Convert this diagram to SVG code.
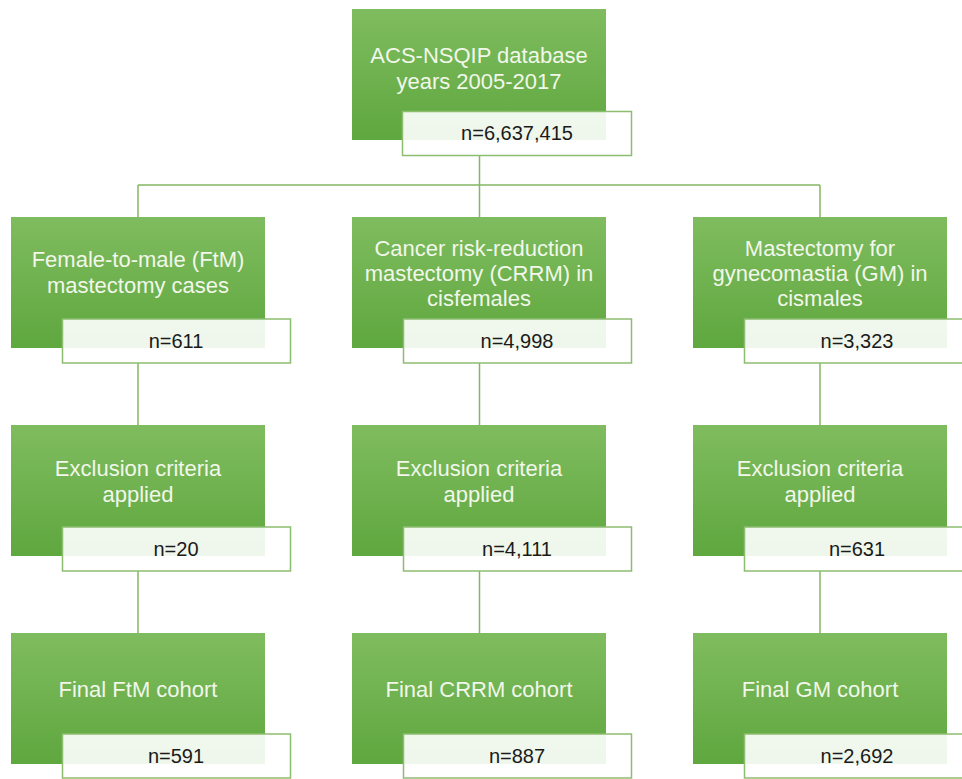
<svg xmlns="http://www.w3.org/2000/svg" width="962" height="779" viewBox="0 0 962 779">
<defs>
<linearGradient id="g" x1="0" y1="0" x2="0" y2="1">
<stop offset="0" stop-color="#7fbc5f"/>
<stop offset="1" stop-color="#5fa73f"/>
</linearGradient>
</defs>
<style>
.box{fill:url(#g);}
.num{fill:#ffffff;fill-opacity:0.9;stroke:#8dbd6f;stroke-width:1.5;}
.t{font-family:"Liberation Sans",Arial,sans-serif;font-size:22px;fill:#f1f7ea;text-anchor:middle;}
.n{font-family:"Liberation Sans",Arial,sans-serif;font-size:20px;fill:#1a1a1a;text-anchor:middle;}
.c{fill:none;stroke:#84b764;stroke-width:1.5;}
</style>
<rect width="962" height="779" fill="#ffffff"/>
<g id="connectors">
<path class="c" d="M479.5 156 V185 M138 185 H820 M138 185 V217 M479.5 185 V217 M820 185 V217"/>
<path class="c" d="M138 363 V425 M479.5 363 V425 M820 363 V425"/>
<path class="c" d="M138 571 V633 M479.5 571 V633 M820 571 V633"/>
</g>
<g id="top">
<rect class="box" x="352" y="9" width="254" height="131"/>
<text class="t" x="479" y="63">ACS-NSQIP database</text>
<text class="t" x="479" y="89">years 2005-2017</text>
<rect class="num" x="402.5" y="111.5" width="229" height="44"/>
<text class="n" x="517" y="140">n=6,637,415</text>
</g>
<g id="ftm">
<rect class="box" x="11" y="217" width="254" height="131"/>
<text class="t" x="138" y="267">Female-to-male (FtM)</text>
<text class="t" x="138" y="293">mastectomy cases</text>
<rect class="num" x="62.5" y="319" width="228" height="44"/>
<text class="n" x="176" y="348">n=611</text>
</g>
<g id="crrm">
<rect class="box" x="352" y="217" width="254" height="131"/>
<text class="t" x="479" y="256">Cancer risk-reduction</text>
<text class="t" x="479" y="281">mastectomy (CRRM) in</text>
<text class="t" x="479" y="306">cisfemales</text>
<rect class="num" x="403.5" y="319" width="228" height="44"/>
<text class="n" x="517" y="348">n=4,998</text>
</g>
<g id="gm">
<rect class="box" x="693" y="217" width="254" height="131"/>
<text class="t" x="820" y="256">Mastectomy for</text>
<text class="t" x="820" y="281">gynecomastia (GM) in</text>
<text class="t" x="820" y="306">cismales</text>
<rect class="num" x="744.5" y="319" width="228" height="44"/>
<text class="n" x="857" y="348">n=3,323</text>
</g>
<g id="ftm-excl">
<rect class="box" x="11" y="425" width="254" height="131"/>
<text class="t" x="138" y="476">Exclusion criteria</text>
<text class="t" x="138" y="502">applied</text>
<rect class="num" x="62.5" y="527" width="228" height="44"/>
<text class="n" x="176" y="556">n=20</text>
</g>
<g id="crrm-excl">
<rect class="box" x="352" y="425" width="254" height="131"/>
<text class="t" x="479" y="476">Exclusion criteria</text>
<text class="t" x="479" y="502">applied</text>
<rect class="num" x="403.5" y="527" width="228" height="44"/>
<text class="n" x="517" y="556">n=4,111</text>
</g>
<g id="gm-excl">
<rect class="box" x="693" y="425" width="254" height="131"/>
<text class="t" x="820" y="476">Exclusion criteria</text>
<text class="t" x="820" y="502">applied</text>
<rect class="num" x="744.5" y="527" width="228" height="44"/>
<text class="n" x="857" y="556">n=631</text>
</g>
<g id="ftm-final">
<rect class="box" x="11" y="633" width="254" height="131"/>
<text class="t" x="138" y="697">Final FtM cohort</text>
<rect class="num" x="62.5" y="734" width="228" height="44"/>
<text class="n" x="176" y="763">n=591</text>
</g>
<g id="crrm-final">
<rect class="box" x="352" y="633" width="254" height="131"/>
<text class="t" x="479" y="697">Final CRRM cohort</text>
<rect class="num" x="403.5" y="734" width="228" height="44"/>
<text class="n" x="517" y="763">n=887</text>
</g>
<g id="gm-final">
<rect class="box" x="693" y="633" width="254" height="131"/>
<text class="t" x="820" y="697">Final GM cohort</text>
<rect class="num" x="744.5" y="734" width="228" height="44"/>
<text class="n" x="857" y="763">n=2,692</text>
</g>
</svg>
